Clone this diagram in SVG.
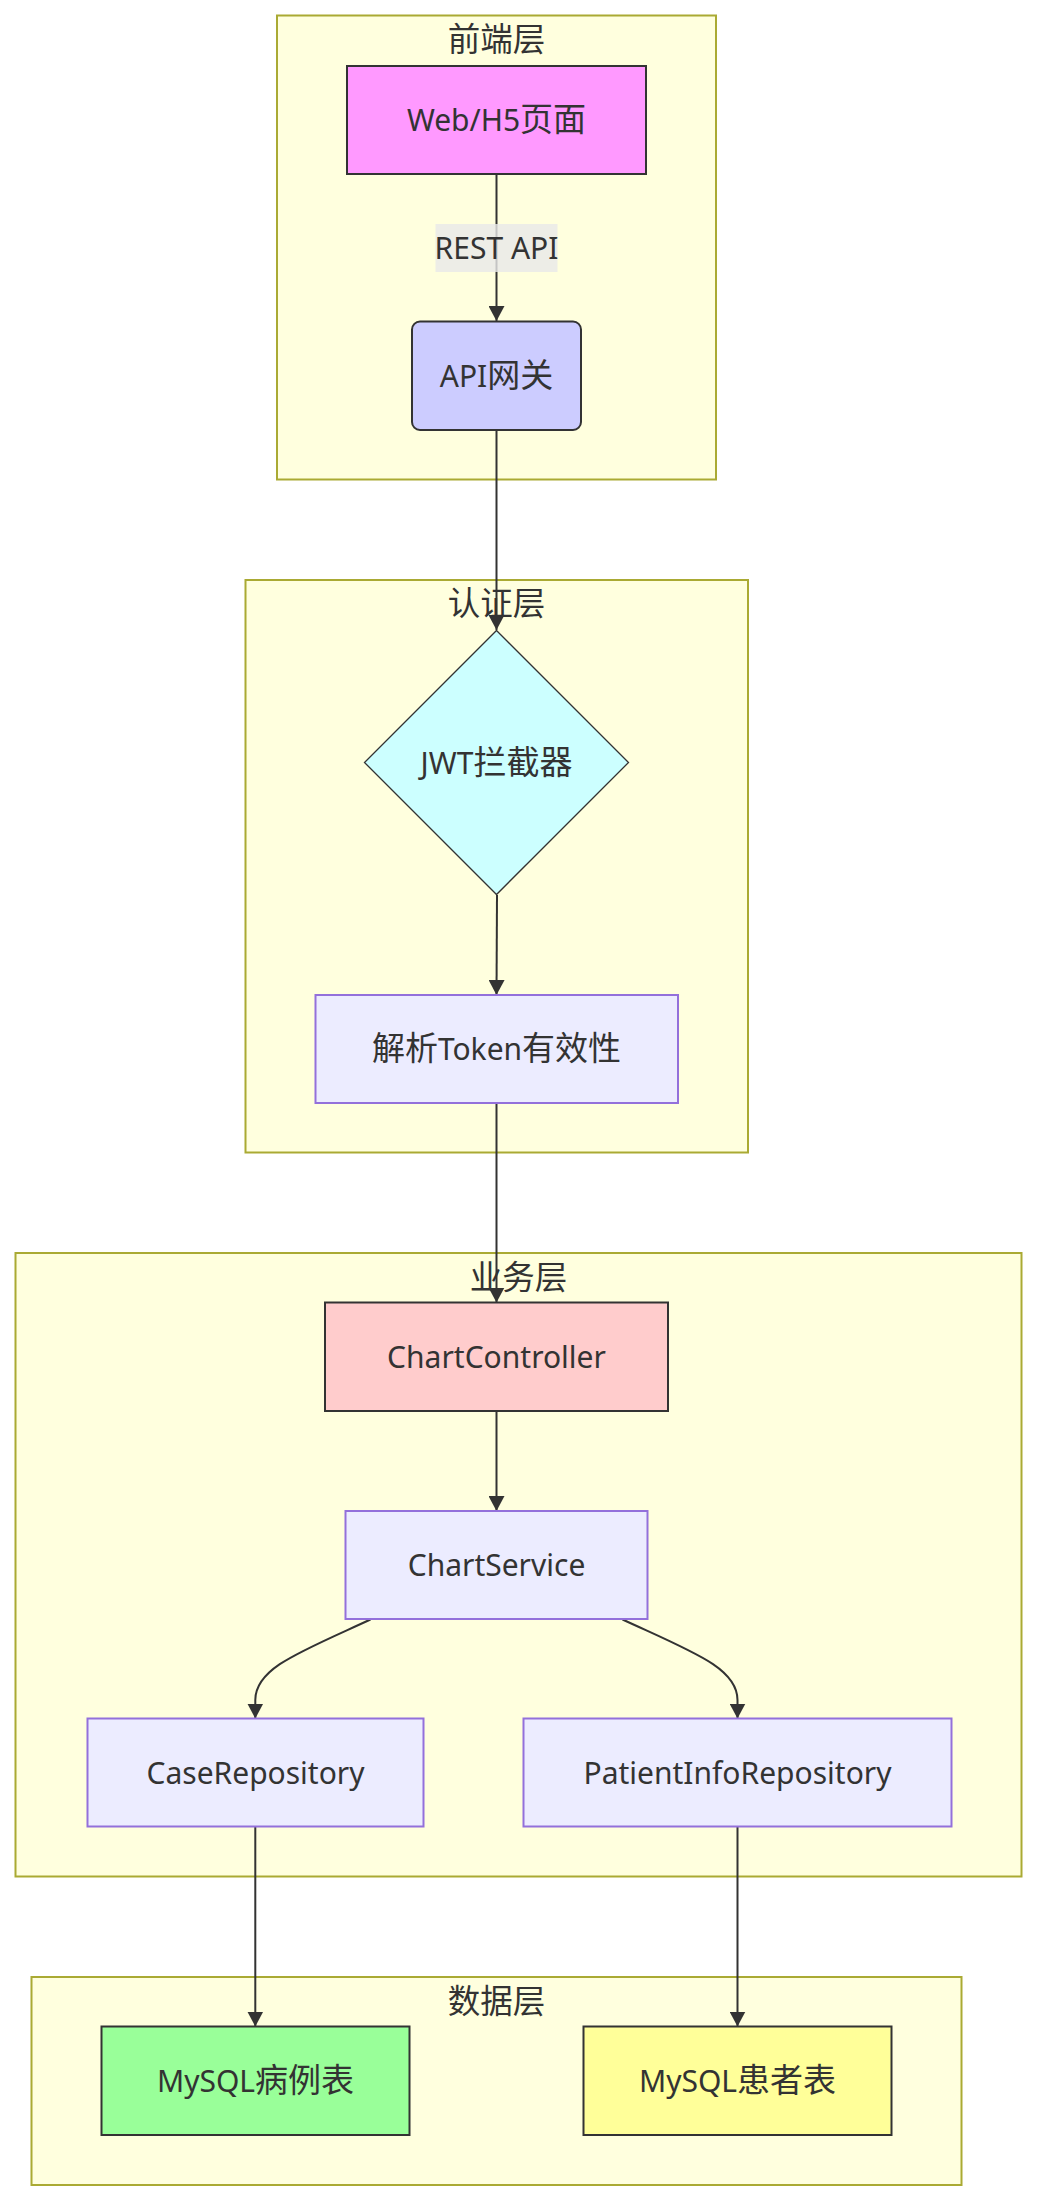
<svg xmlns="http://www.w3.org/2000/svg" width="1046" height="2209" viewBox="0 0 1046 2209">
<style>
.cluster{fill:#ffffde;stroke:#aaaa33;stroke-width:2}
.ctitle{font-family:"Noto Sans","Noto Sans CJK SC",sans-serif;font-size:32.5px;fill:#333;text-anchor:middle}
.ntext{font-family:"Noto Sans","Noto Sans CJK SC",sans-serif;font-size:30px;fill:#333;text-anchor:middle}
.cjk{font-size:33px}
.def{fill:#ECECFF;stroke:#9370DB;stroke-width:2}
.dark{stroke:#333;stroke-width:2}
.edge{fill:none;stroke:#333;stroke-width:2;marker-end:url(#arrow)}
</style>
<defs>
<marker id="arrow" viewBox="0 0 10 10" refX="10" refY="5" markerUnits="userSpaceOnUse" markerWidth="15" markerHeight="16" preserveAspectRatio="none" orient="auto">
<path d="M0,0 L10,5 L0,10 z" fill="#333"/>
</marker>
</defs>
<rect width="1046" height="2209" fill="#ffffff"/>
<g id="cluster-frontend">
<rect class="cluster" x="277" y="15.5" width="439" height="464"/>
<text class="ctitle" x="496.5" y="51">前端层</text>
</g>
<g id="cluster-auth">
<rect class="cluster" x="245.5" y="580" width="502.5" height="572.5"/>
<text class="ctitle" x="496.5" y="615">认证层</text>
</g>
<g id="cluster-business">
<rect class="cluster" x="15.5" y="1253" width="1006" height="623.5"/>
<text class="ctitle" x="518.5" y="1288.5">业务层</text>
</g>
<g id="cluster-data">
<rect class="cluster" x="31.5" y="1977" width="930" height="208"/>
<text class="ctitle" x="496.5" y="2012.5">数据层</text>
</g>
<g id="connectors">
<path class="edge" d="M496.5,174 L496.5,321"/>
<path class="edge" d="M496.5,430 L496.5,630"/>
<path class="edge" d="M497,895 L496.5,995"/>
<path class="edge" d="M496.5,1103 L496.5,1302.5"/>
<path class="edge" d="M496.5,1411 L496.5,1511"/>
<path class="edge" d="M370.5,1619.5 C300,1652 255.3,1668 255.3,1700 L255.3,1718.5"/>
<path class="edge" d="M622.5,1619.5 C693,1652 737.5,1668 737.5,1700 L737.5,1718.5"/>
<path class="edge" d="M255.3,1827 L255.3,2026.5"/>
<path class="edge" d="M737.5,1827 L737.5,2026.5"/>
<g id="edge-label">
<rect x="435.5" y="224" width="122" height="48" fill="#e8e8e8" opacity="0.8"/>
<text class="ntext" x="496.5" y="259">REST API</text>
</g>
</g>
<g id="node-web">
<rect class="dark" x="347" y="66" width="299" height="108" fill="#ff99ff"/>
<text class="ntext" x="496.5" y="131">Web/H5<tspan class="cjk">页面</tspan></text>
</g>
<g id="node-gateway">
<rect class="dark" x="412" y="321.5" width="169" height="108.5" rx="8" ry="8" fill="#ccccff"/>
<text class="ntext" x="496.5" y="387">API<tspan class="cjk">网关</tspan></text>
</g>
<g id="node-jwt">
<polygon points="496.5,630.5 628.5,762.5 496.5,894.5 364.5,762.5" fill="#ccffff" stroke="#333" stroke-width="1.3"/>
<text class="ntext" x="496.5" y="773.5">JWT<tspan class="cjk">拦截器</tspan></text>
</g>
<g id="node-token">
<rect class="def" x="315.5" y="995" width="362.5" height="108"/>
<text class="ntext" x="496.5" y="1060"><tspan class="cjk">解析</tspan>Token<tspan class="cjk">有效性</tspan></text>
</g>
<g id="node-controller">
<rect class="dark" x="325" y="1302.5" width="343" height="108.5" fill="#ffcccc"/>
<text class="ntext" x="496.5" y="1368">ChartController</text>
</g>
<g id="node-service">
<rect class="def" x="345.5" y="1511" width="302" height="108"/>
<text class="ntext" x="496.5" y="1576">ChartService</text>
</g>
<g id="node-caserepo">
<rect class="def" x="87.5" y="1718.5" width="336" height="108"/>
<text class="ntext" x="255.5" y="1783.5">CaseRepository</text>
</g>
<g id="node-patientrepo">
<rect class="def" x="523.5" y="1718.5" width="428" height="108"/>
<text class="ntext" x="737.5" y="1783.5">PatientInfoRepository</text>
</g>
<g id="node-mysql-case">
<rect class="dark" x="101.5" y="2026.5" width="308" height="108.5" fill="#99ff99"/>
<text class="ntext" x="255.5" y="2092">MySQL<tspan class="cjk">病例表</tspan></text>
</g>
<g id="node-mysql-patient">
<rect class="dark" x="583.5" y="2026.5" width="308" height="108.5" fill="#ffff99"/>
<text class="ntext" x="737.5" y="2092">MySQL<tspan class="cjk">患者表</tspan></text>
</g>
</svg>
